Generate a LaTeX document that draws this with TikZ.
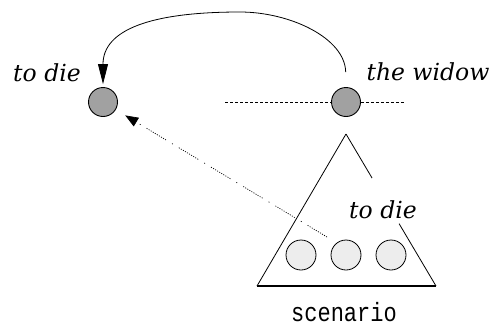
\documentclass[tikz,border=0pt]{standalone}
\usepackage{fontspec}
\setmainfont{DejaVu Serif}
\newfontfamily\labelfont{DejaVu Serif}
\newfontfamily\monofont{Liberation Mono}
\usetikzlibrary{arrows.meta,calc}
\tikzset{
  bigdot/.style={circle,draw,line width=0.9pt,fill=black!37,minimum size=29pt,inner sep=0pt},
  smalldot/.style={circle,draw,line width=0.8pt,fill=black!7,minimum size=30pt,inner sep=0pt},
  lbl/.style={font=\labelfont\itshape\fontsize{23.5}{25}\selectfont,inner sep=0pt},
  solidarrow/.style={line width=0.8pt,-{Triangle[length=20pt,width=10pt]}},
  dotarrow/.style={line width=0.7pt,-{Triangle[length=13pt,width=10pt]},
    dash pattern=on 1pt off 1.4pt on 1pt off 1.4pt on 1pt off 1.4pt on 1pt off 1.4pt on 1pt off 1.4pt on 1pt off 1.4pt on 1pt off 1.4pt on 1pt off 1.4pt on 1pt off 1.4pt on 1pt off 7pt on 1pt off 7pt},
  triline/.style={line width=0.8pt},
}
\begin{document}
\begin{tikzpicture}[x=1pt,y=-1pt]
\useasboundingbox (0,0) rectangle (496,327);
% big dots
\node[bigdot] (L) at (103,102) {};
\node[bigdot] (R) at (346,102) {};
% labels
\node[lbl] (lt) at (47,73) {to die};
\node[lbl] (rt) at (428,72) {the widow};
% dashed line through R
\coordinate (dl) at (225,102);
\coordinate (dr) at (405,102);
\draw[dashed,line width=0.7pt,dash pattern=on 3pt off 2pt] (dl) -- (R.west);
\draw[dashed,line width=0.7pt,dash pattern=on 3pt off 2pt] (R.east) -- (dr);
% curved arrow
\draw[solidarrow,shorten <=15pt,shorten >=3pt] (R.north) .. controls (345,38) and (290,12) .. (240,12) .. controls (150,12) and (103,30) .. (L.north);
% triangle
\coordinate (ta) at (346,134);
\coordinate (tl) at (257,286);
\coordinate (tr) at (436,286);
\draw[triline] (ta) -- ($(ta)!0.29!(tr)$);
\draw[triline] ($(ta)!0.59!(tr)$) -- (tr);
\draw[triline] (ta) -- (tl);
\draw[line width=1.4pt] (tl) -- (tr);
\node[lbl] (inner) at (383,210) {to die};
% small dots
\node[smalldot] (s1) at (301,255) {};
\node[smalldot] (s2) at (346,255) {};
\node[smalldot] (s3) at (391,255) {};
% scenario label
\node[inner sep=0pt,anchor=base] (sc) at (344,321) {\scalebox{1}[1.2]{\monofont\fontsize{22}{24}\selectfont scenario}};
% dotted arrow
\coordinate (ds) at (327,237);
\draw[dotarrow,shorten >=11pt] (ds) -- (L);
\end{tikzpicture}
\end{document}
